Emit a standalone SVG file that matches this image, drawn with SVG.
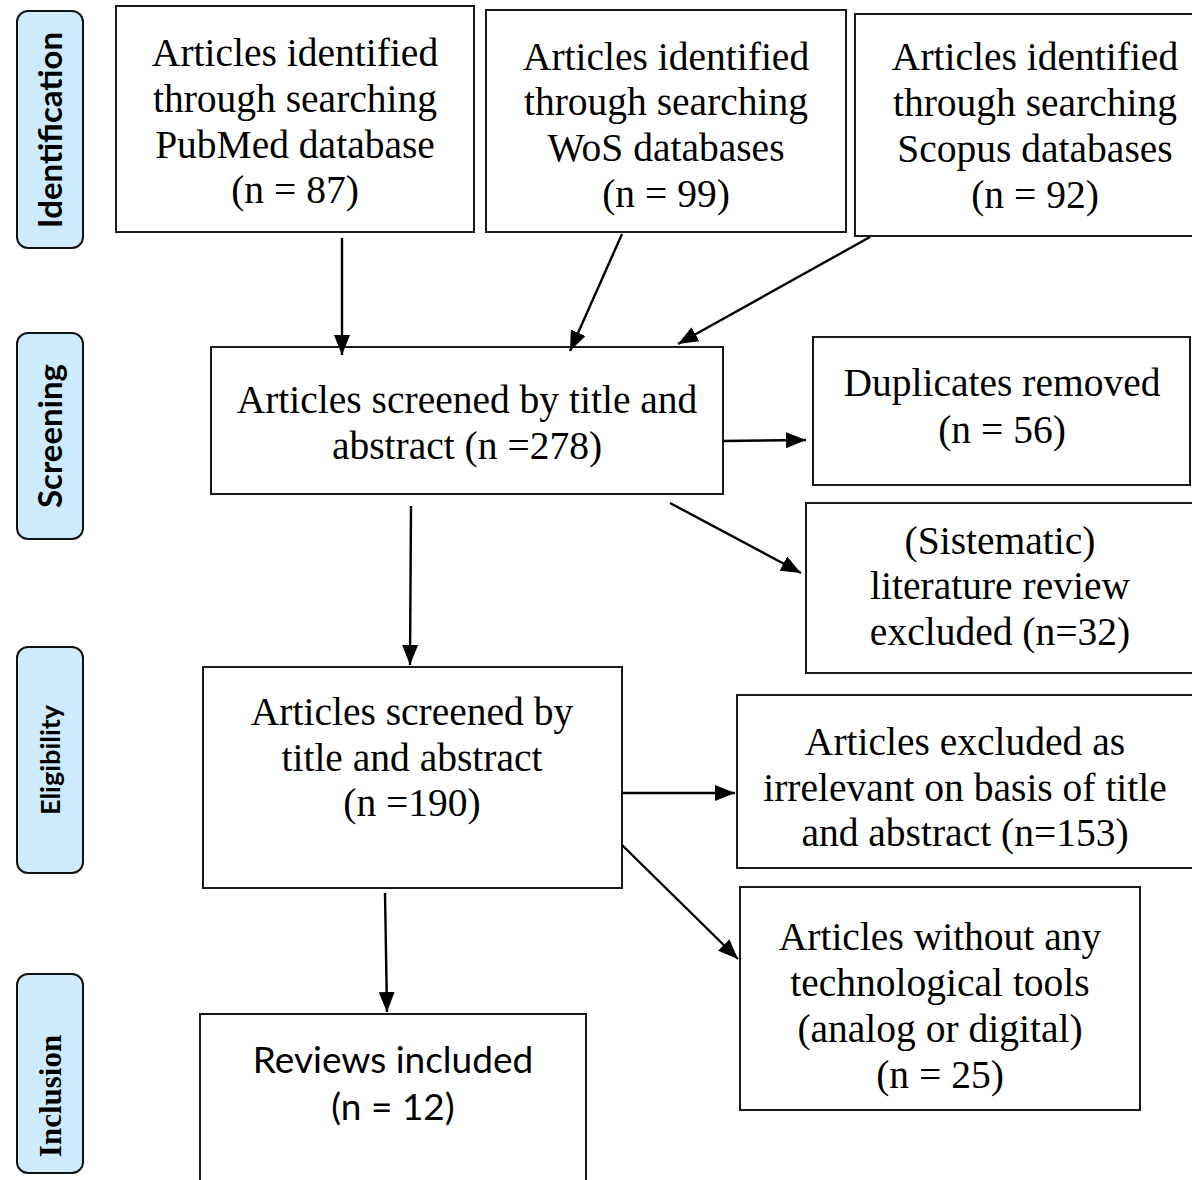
<svg xmlns="http://www.w3.org/2000/svg" width="1192" height="1180" viewBox="0 0 1192 1180">
<style>
.box{fill:#fff;stroke:#1a1a1a;stroke-width:2}
.lab{fill:#cdebfc;stroke:#111;stroke-width:2}
.t{font-family:"Liberation Serif","Times New Roman",serif;font-size:39.5px;fill:#000;text-anchor:middle}
.c{font-family:Lato,"Open Sans",sans-serif;font-size:37px;fill:#000;text-anchor:middle}
.side{font-family:Lato,"Open Sans",sans-serif;font-weight:bold;fill:#000;text-anchor:middle}
.sides{font-family:"Liberation Serif",serif;font-weight:bold;fill:#000;text-anchor:middle}
.conn line{stroke:#000;stroke-width:2.4;marker-end:url(#ah)}
</style>
<defs>
<marker id="ah" markerWidth="20" markerHeight="16" refX="20" refY="8" orient="auto" markerUnits="userSpaceOnUse"><path d="M0,0 L20,8 L0,16 z" fill="#000"/></marker>
</defs>
<rect width="1192" height="1180" fill="#fff"/>

<g id="stage-identification"><rect class="lab" x="17" y="11" width="66" height="237" rx="11"/><text class="side" font-size="33" transform="translate(50,130) rotate(-90)" x="0" y="12">Identification</text></g>
<g id="stage-screening"><rect class="lab" x="17" y="333" width="66" height="206" rx="11"/><text class="side" font-size="33" transform="translate(50,436) rotate(-90)" x="0" y="12">Screening</text></g>
<g id="stage-eligibility"><rect class="lab" x="17" y="647" width="66" height="226" rx="11"/><text class="side" font-size="27" transform="translate(50,760) rotate(-90)" x="0" y="10">Eligibility</text></g>
<g id="stage-inclusion"><rect class="lab" x="17" y="974" width="66" height="199" rx="11"/><text class="sides" font-size="31" transform="translate(50,1096) rotate(-90)" x="0" y="11">Inclusion</text></g>

<g id="pubmed"><rect class="box" x="116" y="6" width="358" height="226"/><text class="t"><tspan x="295" y="66">Articles identified</tspan><tspan x="295" y="112">through searching</tspan><tspan x="295" y="158">PubMed database</tspan><tspan x="295" y="203">(n = 87)</tspan></text></g>
<g id="wos"><rect class="box" x="486" y="10" width="360" height="222"/><text class="t"><tspan x="666" y="70">Articles identified</tspan><tspan x="666" y="115">through searching</tspan><tspan x="666" y="161">WoS databases</tspan><tspan x="666" y="207">(n = 99)</tspan></text></g>
<g id="scopus"><rect class="box" x="855" y="14" width="360" height="222"/><text class="t"><tspan x="1035" y="70">Articles identified</tspan><tspan x="1035" y="116">through searching</tspan><tspan x="1035" y="162">Scopus databases</tspan><tspan x="1035" y="208">(n = 92)</tspan></text></g>

<g id="screened"><rect class="box" x="211" y="347" width="512" height="147"/><text class="t"><tspan x="467" y="413">Articles screened by title and</tspan><tspan x="467" y="459">abstract (n =278)</tspan></text></g>
<g id="duplicates"><rect class="box" x="813" y="337" width="377" height="148"/><text class="t"><tspan x="1002" y="396">Duplicates removed</tspan><tspan x="1002" y="443">(n = 56)</tspan></text></g>
<g id="sistematic"><rect class="box" x="806" y="503" width="400" height="170"/><text class="t"><tspan x="1000" y="554">(Sistematic)</tspan><tspan x="1000" y="599">literature review</tspan><tspan x="1000" y="645">excluded (n=32)</tspan></text></g>

<g id="eligible"><rect class="box" x="203" y="667" width="419" height="221"/><text class="t"><tspan x="412" y="725">Articles screened by</tspan><tspan x="412" y="771">title and abstract</tspan><tspan x="412" y="816">(n =190)</tspan></text></g>
<g id="irrelevant"><rect class="box" x="737" y="695" width="460" height="173"/><text class="t"><tspan x="965" y="755">Articles excluded as</tspan><tspan x="965" y="801">irrelevant on basis of title</tspan><tspan x="965" y="846">and abstract (n=153)</tspan></text></g>
<g id="notools"><rect class="box" x="740" y="887" width="400" height="223"/><text class="t"><tspan x="940" y="950">Articles without any</tspan><tspan x="940" y="996">technological tools</tspan><tspan x="940" y="1042">(analog or digital)</tspan><tspan x="940" y="1088">(n = 25)</tspan></text></g>

<g id="included"><rect class="box" x="200" y="1014" width="386" height="190"/><text class="c"><tspan x="393" y="1073">Reviews included</tspan><tspan x="393" y="1120">(n = 12)</tspan></text></g>

<g id="connectors" class="conn">
<line x1="342" y1="238" x2="342" y2="355"/>
<line x1="622" y1="234" x2="570" y2="351"/>
<line x1="870" y1="237" x2="678" y2="344"/>
<line x1="723" y1="441" x2="806" y2="440"/>
<line x1="670" y1="503" x2="801" y2="573"/>
<line x1="411" y1="506" x2="410" y2="665"/>
<line x1="622" y1="793" x2="735" y2="793"/>
<line x1="622" y1="845" x2="738" y2="959"/>
<line x1="385" y1="893" x2="387" y2="1012"/>
</g>
</svg>
